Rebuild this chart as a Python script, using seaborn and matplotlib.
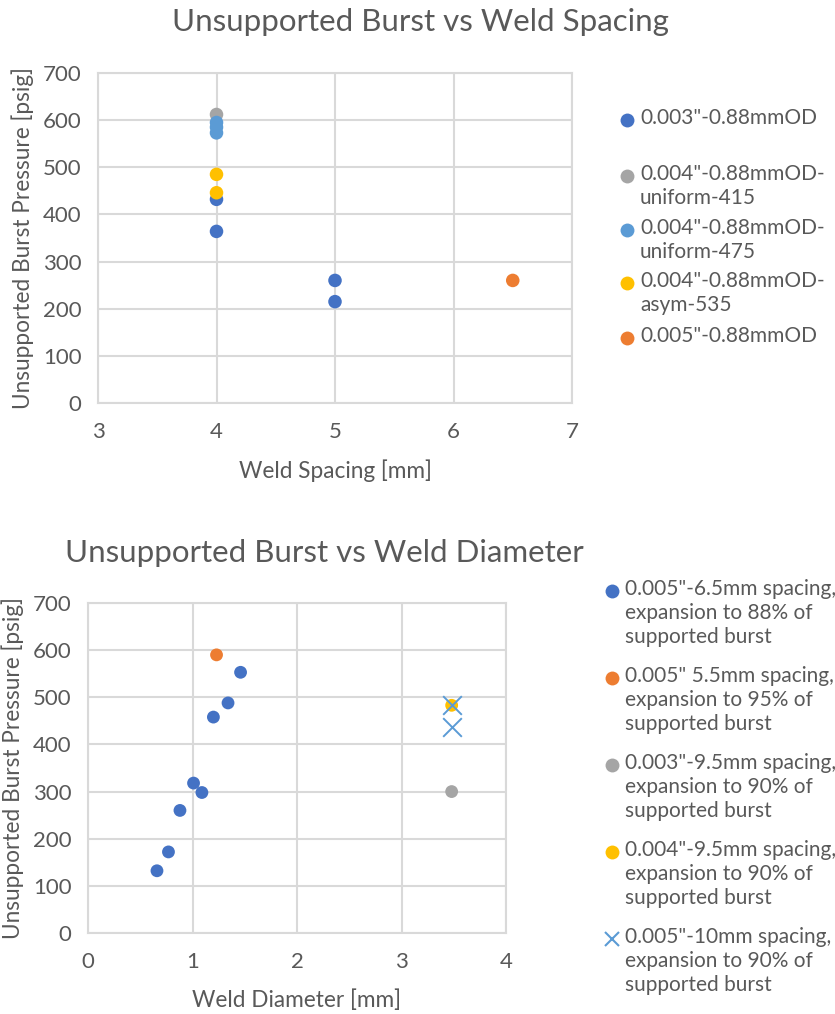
import matplotlib
matplotlib.use("Agg")
import matplotlib.pyplot as plt
import seaborn as sns
import pandas as pd
from matplotlib.lines import Line2D

# ---------------- data ----------------
# Top chart: Weld spacing [mm] vs unsupported burst pressure [psig]
top_labels = ['0.003"-0.88mmOD', '0.004"-0.88mmOD-\nuniform-415',
              '0.004"-0.88mmOD-\nuniform-475', '0.004"-0.88mmOD-\nasym-535',
              '0.005"-0.88mmOD']
s1_x = [4, 4, 5, 5]
s1_y = [432, 364, 260, 215]
s2_x = [4]
s2_y = [612]
s3_x = [4, 4, 4]
s3_y = [595, 585, 573]
s4_x = [4, 4]
s4_y = [485, 446]
s5_x = [6.5]
s5_y = [260]

# Bottom chart: Weld diameter [mm] vs unsupported burst pressure [psig]
bot_labels = ['0.005"-6.5mm spacing,\nexpansion to 88% of\nsupported burst',
              '0.005" 5.5mm spacing,\nexpansion to 95% of\nsupported burst',
              '0.003"-9.5mm spacing,\nexpansion to 90% of\nsupported burst',
              '0.004"-9.5mm spacing,\nexpansion to 90% of\nsupported burst',
              '0.005"-10mm spacing,\nexpansion to 90% of\nsupported burst']
b1_x = [0.66, 0.77, 0.88, 1.01, 1.09, 1.20, 1.34, 1.46]
b1_y = [132, 172, 260, 318, 298, 458, 488, 553]
b2_x = [1.23]
b2_y = [590]
b3_x = [3.48]
b3_y = [300]
b4_x = [3.48]
b4_y = [483]
b5_x = [3.48, 3.48]
b5_y = [483, 437]

top_ticks_x = [3, 4, 5, 6, 7]
bot_ticks_x = [0, 1, 2, 3, 4]
ticks_y = [0, 100, 200, 300, 400, 500, 600, 700]

# ---------------- style ----------------
sns.set_theme(style="white")
plt.rcParams['font.family'] = ['Lato', 'DejaVu Sans']
TXT = '#595959'
GRID = '#d9d9d9'
BLUE, ORANGE, GRAY, YELLOW, LBLUE = '#4472C4', '#ED7D31', '#A5A5A5', '#FFC000', '#5B9BD5'

W, H = 835, 1014
fig = plt.figure(figsize=(W / 100, H / 100), dpi=100)

def style_ax(ax, xticks, xlabel):
    ax.set_xlim(xticks[0], xticks[-1])
    ax.set_ylim(0, 700)
    ax.set_xticks(xticks)
    ax.set_yticks(ticks_y)
    ax.grid(True, color=GRID, linewidth=1.5)
    ax.set_axisbelow(True)
    for sp in ax.spines.values():
        sp.set_color(GRID)
        sp.set_linewidth(1.5)
    ax.tick_params(axis='both', length=0, labelsize=16, labelcolor=TXT)
    ax.tick_params(axis='x', pad=14)
    ax.tick_params(axis='y', pad=12)
    ax.set_xlabel(xlabel, fontsize=16.3, color=TXT, labelpad=12)
    ax.set_ylabel('Unsupported Burst Pressure [psig]', fontsize=16.3, color=TXT, labelpad=6)

# ---------------- top chart ----------------
ax1 = fig.add_axes([98 / W, 1 - 403 / H, 474 / W, 330 / H])
for xs, ys, c in [(s1_x, s1_y, BLUE), (s2_x, s2_y, GRAY), (s3_x, s3_y, LBLUE),
                  (s4_x, s4_y, YELLOW), (s5_x, s5_y, ORANGE)]:
    sns.scatterplot(x=xs, y=ys, color=c, s=95, edgecolor='none', ax=ax1, zorder=3)
style_ax(ax1, top_ticks_x, 'Weld Spacing [mm]')
fig.text(420 / W, 1 - 22 / H, 'Unsupported Burst vs Weld Spacing', ha='center', va='center',
         fontsize=22.5, color=TXT)

# ---------------- bottom chart ----------------
ax2 = fig.add_axes([88 / W, 1 - 933 / H, 418 / W, 330 / H])
for xs, ys, c in [(b1_x, b1_y, BLUE), (b2_x, b2_y, ORANGE), (b3_x, b3_y, GRAY),
                  (b4_x, b4_y, YELLOW)]:
    sns.scatterplot(x=xs, y=ys, color=c, s=85, edgecolor='none', ax=ax2, zorder=3)
sns.scatterplot(x=b5_x, y=b5_y, color=LBLUE, marker='x', s=180, linewidth=1.4, ax=ax2, zorder=4)
style_ax(ax2, bot_ticks_x, 'Weld Diameter [mm]')
fig.text(324 / W, 1 - 553 / H, 'Unsupported Burst vs Weld Diameter', ha='center', va='center',
         fontsize=22.5, color=TXT)

# ---------------- legends (Excel style, marker aligned with first line) ----------------
def legend_entry(mx, tx, y, label, color, marker='o', ms=10):
    if marker == 'x':
        fig.add_artist(Line2D([mx / W], [1 - y / H], marker='x', color=color, markersize=ms,
                              markeredgewidth=1.5, linestyle='none', transform=fig.transFigure))
    else:
        fig.add_artist(Line2D([mx / W], [1 - y / H], marker='o', color=color, markersize=ms,
                              markeredgewidth=0, linestyle='none', transform=fig.transFigure))
    fig.text(tx / W, 1 - (y - 12) / H, label, ha='left', va='top', fontsize=15, color=TXT,
             linespacing=1.25)

top_y = [120, 176, 230, 283, 338]
for y, lab, c in zip(top_y, top_labels, [BLUE, GRAY, LBLUE, YELLOW, ORANGE]):
    legend_entry(627, 640, y, lab, c)

bot_y = [591, 678, 765, 852, 939]
bot_markers = ['o', 'o', 'o', 'o', 'x']
for y, lab, c, m in zip(bot_y, bot_labels, [BLUE, ORANGE, GRAY, YELLOW, LBLUE], bot_markers):
    legend_entry(612, 625, y, lab, c, marker=m)

fig.savefig('out.png', dpi=100)
